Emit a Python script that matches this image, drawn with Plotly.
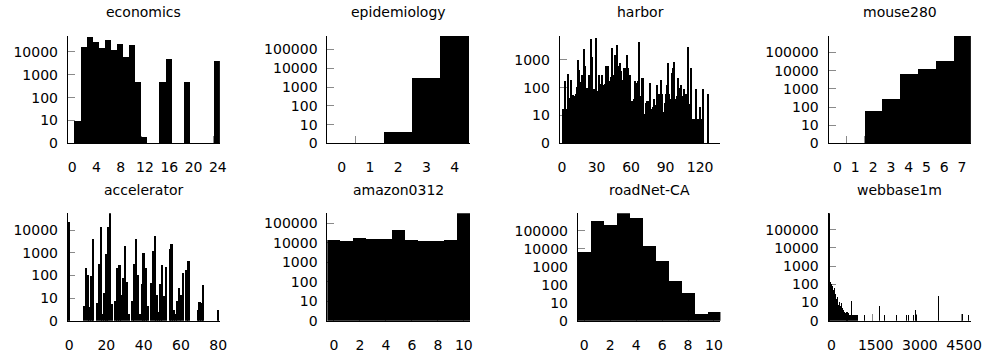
import plotly.graph_objects as go

FONT = "DejaVu Sans"

# ---------------- data ----------------
titles = ["economics", "epidemiology", "harbor", "mouse280",
          "accelerator", "amazon0312", "roadNet-CA", "webbase1m"]

economics_x = list(range(1, 25))
economics_y = [10, 17000, 47000, 29000, 16000, 35000, 12000, 24000, 6100, 20000,
               500, 2, 0, 0, 500, 5300, 0, 0, 500, 0, 0, 0, 0, 4300]

epidemiology_x = [0, 1, 2, 3, 4]
epidemiology_y = [0, 0, 4, 3000, 537000]

harbor_x = list(range(0, 128))
harbor_y = [0, 18, 180, 17, 17, 320, 40, 44, 190, 55,
            6, 50, 60, 110, 1000, 450, 160, 300, 100, 2400,
            630, 100, 100, 280, 300, 5500, 1300, 85, 90, 6300,
            80, 80, 290, 80, 140, 300, 130, 140, 600, 620,
            630, 170, 250, 2600, 300, 250, 1500, 270, 3400, 600,
            780, 400, 200, 200, 500, 500, 1500, 500, 40, 300,
            35, 35, 40, 170, 30, 150, 170, 4600, 50, 220,
            220, 3, 12, 30, 35, 35, 150, 14, 18, 20,
            40, 25, 130, 0, 60, 60, 200, 60, 14, 30,
            60, 130, 800, 60, 40, 350, 500, 830, 35, 40,
            50, 220, 100, 130, 40, 50, 90, 60, 60, 2900,
            27, 27, 500, 0, 8, 8, 90, 8, 0, 8,
            20, 8, 90, 0, 0, 0, 0, 60]

mouse280_x = [0, 1, 2, 3, 4, 5, 6, 7]
mouse280_y = [0, 0, 60, 290, 7100, 12300, 38000, 850000]

accelerator_x = list(range(0, 81))
accelerator_y = [22000, 0, 0, 0, 0, 0, 0, 0, 4.5, 210,
                 100, 4, 94, 4100, 0, 5.7, 330, 13500, 2, 17,
                 880, 13500, 56000, 5.3, 0, 7.4, 210, 280, 13, 74,
                 1900, 53, 2, 0, 7.4, 330, 4100, 100, 2, 42,
                 1000, 200, 4.5, 0, 45, 1200, 5300, 14, 2.3, 41,
                 280, 12, 230, 0, 1500, 2500, 2.8, 2, 7.4, 28,
                 14, 130, 0, 170, 420, 0, 0, 0, 0, 2.8,
                 6.7, 5.7, 36, 0, 0, 0, 0, 0, 0, 0,
                 2.8]

amazon0312_x = list(range(0, 11))
amazon0312_y = [14700, 11700, 17000, 16500, 16500, 46000, 14700, 13000, 11700, 14700, 340000]

roadnet_x = list(range(0, 11))
roadnet_y = [6600, 330000, 200000, 980000, 500000, 14000, 2200, 160, 33, 2.2, 3.1]

webbase_x = [1, 11, 44, 78, 111, 144, 178, 211, 244, 278, 311, 344, 378, 411, 444,
             478, 511, 544, 578, 611, 644, 678, 711, 744, 778, 811, 844, 878, 911,
             944, 978, 1189, 1722, 1889, 2300, 2644, 2700, 2856, 2922, 2978,
             3722, 4522, 4722]
webbase_y = [810000, 170, 130, 100, 80, 45, 65, 30, 16, 20, 7, 11, 6, 9, 5,
             3.6, 3, 2.7, 2.7, 3, 2, 2.7, 2, 2, 12, 2, 2, 2, 2,
             2, 2, 2, 6, 2, 2, 2, 2, 2, 4, 2,
             23, 2.4, 2]

xtick_vals = [[0, 4, 8, 12, 16, 20, 24], [0, 1, 2, 3, 4], [0, 30, 60, 90, 120],
              [0, 1, 2, 3, 4, 5, 6, 7], [0, 20, 40, 60, 80], [0, 2, 4, 6, 8, 10],
              [0, 2, 4, 6, 8, 10], [0, 1500, 3000, 4500]]

# ---------------- layout / style ----------------
series = [(economics_x, economics_y), (epidemiology_x, epidemiology_y),
          (harbor_x, harbor_y), (mouse280_x, mouse280_y),
          (accelerator_x, accelerator_y), (amazon0312_x, amazon0312_y),
          (roadnet_x, roadnet_y), (webbase_x, webbase_y)]

W, H = 994, 360
xpix = [(65.7, 220), (329, 474), (564.7, 727.7), (837.3, 981.7),
        (65.7, 220), (329, 474), (583, 727.7), (837.3, 981.7)]
ypix = [(36.5, 146.7)] * 4 + [(218, 328)] * 4
xranges = [(-0.57, 24.5), (-0.51, 4.55), (-2, 137.7), (-0.5, 7.5),
           (-0.7, 80.9), (-0.5, 10.5), (-0.5, 10.5), (0, 4833)]
ytops = [4.71, 5.73, 3.86, 5.93, 4.75, 5.53, 5.99, 5.91]
ytickmax = [4, 5, 3, 5, 4, 5, 5, 5]
tick_half = [True, True, False, True, False, False, False, False]
extra_shift = [1.2, 0, 0, 0, 0, 0, 0, 3]
bar_width = [1, 1, 1, 1, 1, 1, 1, 1]

fig = go.Figure()
layout = dict(width=W, height=H, margin=dict(l=0, r=0, t=0, b=0),
              paper_bgcolor="white", plot_bgcolor="white", showlegend=False,
              bargap=0, font=dict(family=FONT, size=14, color="black"))
annotations = []

for i, (xs, ys) in enumerate(series):
    n = i + 1
    xa = "x" if n == 1 else f"x{n}"
    ya = "y" if n == 1 else f"y{n}"
    fig.add_trace(go.Bar(x=xs, y=ys, width=bar_width[i], xaxis=xa, yaxis=ya,
                         marker=dict(color="black", line=dict(width=0))))
    l, r = xpix[i]
    t, b = ypix[i]
    x0, x1 = xranges[i]
    ppu = (r - l) / (x1 - x0)
    if tick_half[i]:
        tv = [v - 0.5 for v in xtick_vals[i]]
        shift = 0.5 * ppu + extra_shift[i]
    else:
        tv = list(xtick_vals[i])
        shift = extra_shift[i]
    yvals = [10 ** k for k in range(0, ytickmax[i] + 1)]
    ytext = ["0"] + [str(10 ** k) for k in range(1, ytickmax[i] + 1)]
    axcommon = dict(showgrid=False, zeroline=False, showline=True, linecolor="black",
                    linewidth=1, ticks="inside", ticklen=7, tickcolor="#8a8a8a",
                    tickwidth=1, layer="below traces", fixedrange=True,
                    tickfont=dict(family=FONT, size=14, color="black"))
    layout[f"xaxis{'' if n == 1 else n}"] = dict(
        axcommon, domain=[l / W, r / W], range=[x0, x1], anchor=ya,
        tickmode="array", tickvals=tv, ticktext=[str(v) for v in xtick_vals[i]],
        ticklabelshift=int(round(shift)), ticklabelstandoff=11)
    layout[f"yaxis{'' if n == 1 else n}"] = dict(
        axcommon, domain=[1 - b / H, 1 - t / H], type="log", range=[0, ytops[i]],
        anchor=xa, tickmode="array", tickvals=yvals, ticktext=ytext,
        ticklabelstandoff=6)
    annotations.append(dict(text=titles[i], xref="paper", yref="paper",
                            x=(l + r) / 2 / W, y=1 - (t - 24) / H,
                            xanchor="center", yanchor="middle", showarrow=False,
                            font=dict(family=FONT, size=14, color="black")))

layout["annotations"] = annotations
fig.update_layout(**layout)
fig.write_html("out.html")
